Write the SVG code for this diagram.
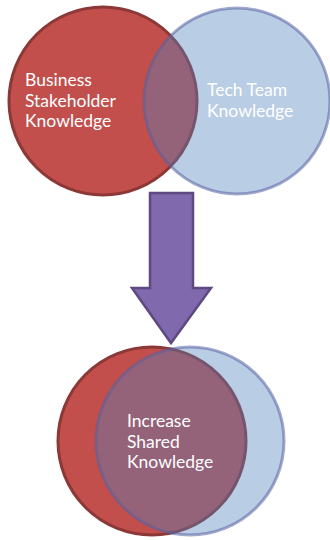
<svg xmlns="http://www.w3.org/2000/svg" width="330" height="540" viewBox="0 0 330 540">
<style>
.red{fill:#C24F4C;stroke:#8C3836;stroke-width:3}
.blue{fill:#4F81BD;fill-opacity:0.4;stroke:#5560A0;stroke-opacity:0.55;stroke-width:3}
.lbl{font-family:Lato,"Open Sans","Liberation Sans",sans-serif;font-size:17.5px;fill:#FFFFFF}
.arrow{fill:#8169AE;stroke:#5E4A80;stroke-width:2.5;stroke-linejoin:miter}
</style>
<g id="business">
<circle class="red" cx="103" cy="101" r="94"/>
</g>
<g id="tech">
<circle class="blue" cx="237" cy="101" r="93"/>
</g>
<g id="top-labels">
<text class="lbl" x="25" y="86">Business</text>
<text class="lbl" x="25" y="106.5">Stakeholder</text>
<text class="lbl" x="25" y="127">Knowledge</text>
<text class="lbl" x="207" y="96">Tech Team</text>
<text class="lbl" x="207" y="116.5">Knowledge</text>
</g>
<g id="connectors">
<path class="arrow" d="M150,193 L193,193 L193,288 L211,288 L171,343 L132,288 L150,288 Z"/>
</g>
<g id="shared">
<circle class="red" cx="152" cy="441" r="94"/>
<circle class="blue" cx="190" cy="441" r="94"/>
<text class="lbl" x="127" y="427">Increase</text>
<text class="lbl" x="127" y="447.5">Shared</text>
<text class="lbl" x="127" y="468">Knowledge</text>
</g>
</svg>
